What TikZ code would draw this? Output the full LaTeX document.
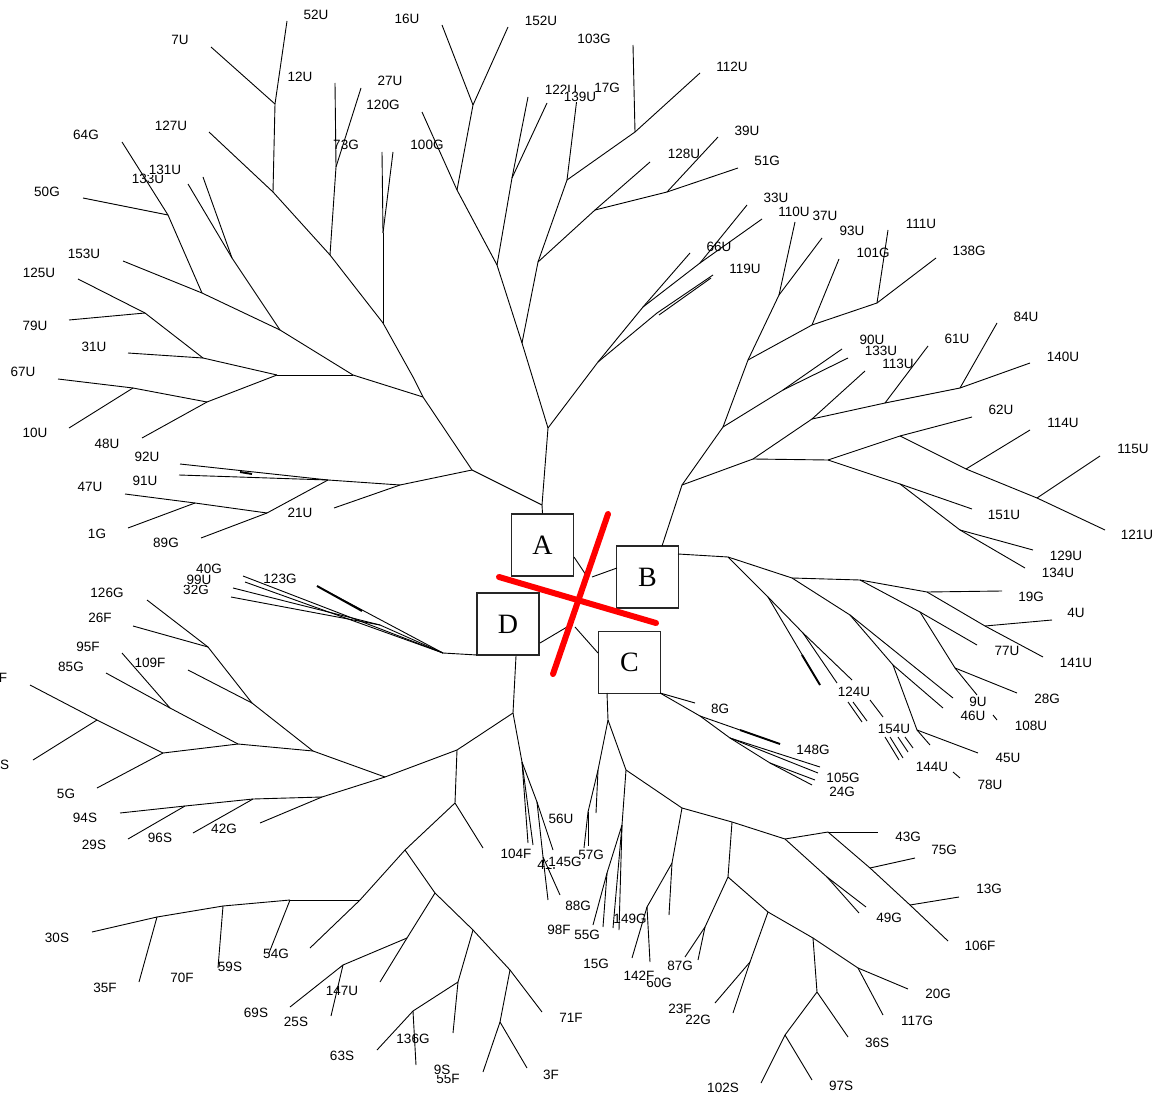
\documentclass[tikz,border=0pt]{standalone}
\usepackage{fontspec}
\setmainfont{Liberation Sans}
\newfontfamily\boxfont{Liberation Serif}
\newcommand\br[3]{\coordinate (#2) at (#3); \draw[edge] (#1) -- (#2);}
\newcommand\seg[3]{\coordinate (#1s) at (#2); \coordinate (#1e) at (#3); \draw[edge] (#1s) -- (#1e);}
\newcommand\segt[3]{\coordinate (#1s) at (#2); \coordinate (#1e) at (#3); \draw[thickedge] (#1s) -- (#1e);}
\begin{document}
\begin{tikzpicture}[x=1pt,y=-1pt,
  edge/.style={line width=0.9pt,black},
  thickedge/.style={line width=1.9pt,black},
  lab/.style={font=\fontsize{13.5}{14}\selectfont,inner sep=0pt},
  labw/.style={lab,fill=white,inner sep=0.6pt},
  box/.style={draw=black!85,line width=1.1pt,minimum width=62pt,minimum height=62pt,fill=white,inner sep=0pt,font=\boxfont\fontsize{28}{30}\selectfont},
  redx/.style={line width=6pt,red,line cap=round}]
\useasboundingbox[fill=white] (0,0) rectangle (1169,1099);

% boxes
\node[box] (A) at (542.5,545) {A};
\node[box] (B) at (647.5,577) {B};
\node[box] (C) at (629.5,662.5) {C};
\node[box] (D) at (508,624) {D};

% ---------- A side ----------
\coordinate (a0) at (542,505);
\draw[edge] (A.north) -- (a0);
\br{a0}{p1}{472,470}
\br{p1}{p2}{423,397}
\br{p2}{p3}{413,377}
\br{p3}{p4}{383,323}
\br{p4}{p5}{330,255}
\br{p5}{p6}{273,192}
\br{p6}{l127}{209,132}
\br{p4}{p4a}{383,233}
\br{p4a}{l100a}{382,152}
\br{p4a}{l100b}{393,152}
\br{p5}{p5a}{336,167}
\br{p5a}{l73}{335,83}
\br{p5a}{l120}{361,88}
\br{p6}{p6a}{275,104}
\br{p6a}{l52}{287,21}
\br{p6a}{l7}{211,47}
\br{p2}{p7}{353,375}
\br{p7}{p8}{280,330}
\br{p8}{p9}{202,293}
\br{p9}{l153}{123,261}
\br{p9}{p9a}{168,215}
\br{p9a}{l64}{122,142}
\br{p9a}{l50}{83,198}
\br{p8}{p8a}{232,258}
\br{p8a}{l131a}{188,184}
\br{p8a}{l131b}{203,177}
\br{p7}{p11}{277,375}
\br{p11}{p12}{203,358}
\br{p12}{p13}{145,313}
\br{p13}{l125}{78,279}
\br{p13}{l79}{69,320}
\br{p12}{l31}{128,353}
\br{p11}{p14}{207,402}
\br{p14}{p15}{133,388}
\br{p15}{l67}{58,379}
\br{p15}{l10}{69,428}
\br{p14}{l48}{142,438}
\br{p1}{p21}{400,485}
\br{p21}{l21}{334,508}
\br{p21}{p22}{328,480}
\br{p22}{l92}{180,464}
\segt{tk4}{240,472}{252,474}
\br{p22}{l91}{179,475}
\br{p22}{p24}{267,513}
\br{p24}{p25}{195,503}
\br{p25}{l47}{125,494}
\br{p25}{l1}{128,528}
\br{p24}{l89}{201,538}

\br{a0}{q1}{548,428}
\br{q1}{q2}{522,343}
\br{q2}{q3}{497,265}
\br{q3}{q4}{457,190}
\br{q4}{l100}{422,112}
\br{q4}{q5}{473,105}
\br{q5}{l16}{442,25}
\br{q5}{l152}{508,27}
\br{q3}{q6}{512,178}
\br{q6}{l122a}{528,97}
\br{q6}{l122b}{547,103}
\br{q2}{q7}{538,262}
\br{q7}{q8}{567,180}
\br{q8}{l139}{577,98}
\br{q8}{q9}{635,132}
\br{q9}{l112}{700,73}
\br{q9}{l103}{633,45}
\br{q7}{q10}{595,210}
\br{q10}{l128}{650,162}
\br{q10}{q11}{667,192}
\br{q11}{l39}{718,137}
\br{q11}{l51}{738,168}
\br{q1}{q12}{598,362}
\br{q12}{q13}{643,307}
\br{q13}{l66a}{690,253}
\br{q13}{q14}{700,263}
\br{q14}{l33}{747,205}
\br{q14}{l110x}{762,219}
\br{q12}{q15}{657,313}
\br{q15}{l119}{713,275}
\seg{dq}{659,315}{711,278}

% ---------- B side ----------
\coordinate (b0) at (662,546);
\br{b0}{b1}{682,485}
\br{b1}{b2}{753,459}
\br{b2}{b3}{828,460}
\br{b2}{b4}{812,419}
\br{b4}{b5}{885,403}
\br{b5}{b6}{960,388}
\br{b6}{l140}{1030,363}
\br{b6}{l84}{997,323}
\br{b5}{l61}{928,346}
\br{b4}{l113}{865,371}
\br{b3}{b7}{900,436}
\br{b7}{l62}{972,417}
\br{b7}{b8}{966,469}
\br{b8}{l114}{1030,430}
\br{b8}{b9}{1037,498}
\br{b9}{l115}{1100,456}
\br{b9}{l121}{1105,530}
\br{b3}{b10}{900,484}
\br{b10}{l151}{972,509}
\br{b10}{b11}{960,530}
\br{b11}{l129}{1033,550}
\br{b11}{l134}{1025,568}
\br{b1}{b12}{723,427}
\br{b12}{b13}{783,390}
\br{b13}{l90}{842,349}
\br{b13}{l133}{848,358}
\br{b12}{b14}{748,360}
\br{b14}{b15}{779,295}
\br{b15}{l110}{795,222}
\br{b15}{l37}{822,238}
\br{b14}{b16}{812,325}
\br{b16}{l93}{839,259}
\br{b16}{b17}{877,303}
\br{b17}{l111}{888,230}
\br{b17}{l138}{936,258}

\coordinate (b19) at (678,554);
\br{b19}{b20}{728,557}
\br{b20}{b21}{792,578}
\br{b21}{b22}{860,580}
\br{b22}{b23}{927,592}
\br{b23}{l19}{1002,591}
\br{b23}{b24}{985,626}
\br{b24}{l4}{1052,620}
\br{b24}{l141}{1043,657}
\br{b22}{b25}{920,612}
\br{b25}{l77}{977,645}
\br{b25}{b26}{955,668}
\br{b26}{l46}{977,695}
\br{b26}{l28}{1017,693}
\br{b21}{b27}{850,615}
\br{b27}{b28}{893,665}
\br{b28}{b29}{917,730}
\br{b29}{l45}{978,753}
\br{b29}{l154}{930,745}
\br{b28}{l124a}{943,708}
\br{b27}{l124b}{953,698}
\br{b20}{b30}{768,597}
\br{b30}{l124c}{820,685}
\segt{tk1}{802,655}{820,685}
\br{b30}{b31}{803,633}
\br{b31}{l124d}{837,683}
\br{b31}{l124e}{852,680}
\seg{e1}{848,702}{862,722}
\seg{e2}{853,702}{867,721}
\seg{e3}{870,700}{883,717}
\seg{e4}{885,737}{899,760}
\seg{e5}{890,737}{903,758}
\seg{e6}{898,737}{908,752}
\seg{e7}{905,737}{913,748}
\seg{e8}{953,772}{960,778}
\seg{e9}{993,715}{997,720}

% ---------- C side ----------
\coordinate (c0) at (607,693);
\br{c0}{c1}{608,720}
\br{c1}{c2}{598,770}
\br{c2}{l57a}{596,813}
\br{c2}{c3}{588,812}
\br{c3}{l57b}{584,848}
\br{c3}{l57c}{588,846}
\br{c1}{c4}{626,770}
\br{c4}{c5}{622,825}
\br{c5}{c6}{607,873}
\br{c6}{l98a}{593,925}
\br{c6}{l98b}{603,927}
\br{c5}{l149a}{619,930}
\br{c5}{l149b}{613,928}
\br{c4}{c7}{682,808}
\br{c7}{c8}{672,863}
\br{c8}{l142a}{669,915}
\br{c8}{c9}{647,907}
\br{c9}{l142}{632,958}
\br{c9}{l60}{650,962}
\br{c7}{c10}{732,822}
\br{c10}{c11}{728,877}
\br{c11}{c12}{705,927}
\br{c12}{l87a}{685,957}
\br{c12}{l87b}{698,960}
\br{c11}{c13}{768,912}
\br{c13}{c14}{750,962}
\br{c14}{l23}{715,1003}
\br{c14}{l22}{733,1013}
\br{c13}{c15}{813,938}
\br{c15}{c16}{858,968}
\br{c16}{l20}{908,989}
\br{c16}{l117}{883,1015}
\br{c15}{c17}{817,992}
\br{c17}{l36}{848,1037}
\br{c17}{c18}{785,1035}
\br{c18}{l102}{761,1083}
\br{c18}{l97}{812,1080}
\br{c10}{c19}{785,839}
\br{c19}{c20}{828,832}
\br{c20}{l43}{878,832}
\br{c20}{c21}{870,868}
\br{c21}{l75}{915,858}
\br{c21}{c22}{910,905}
\br{c22}{l13}{959,897}
\br{c22}{l106}{948,941}
\br{c19}{c23}{827,877}
\br{c23}{l49a}{866,907}
\br{c23}{l49b}{859,913}

\coordinate (cr0) at (660,693);
\br{cr0}{l8}{695,703}
\br{cr0}{cr1}{700,716}
\br{cr1}{l148}{780,744}
\segt{tk2}{740,730}{780,744}
\br{cr1}{cr2}{730,738}
\br{cr2}{l148b}{820,767}
\br{cr2}{l105}{818,773}
\br{cr2}{cr3}{770,763}
\br{cr3}{l24a}{815,780}
\br{cr3}{l24b}{812,785}

% ---------- D side ----------
\coordinate (d0) at (477,655);
\br{d0}{d1}{443,653}
\br{d1}{d2}{380,625}
\br{d2}{l32a}{233,588}
\br{d2}{l32b}{231,597}
\br{d1}{l40a}{243,576}
\br{d1}{l40b}{245,582}
\br{d1}{l123}{317,586}
\segt{tk3}{317,586}{362,611}

\coordinate (d9) at (516,656);
\br{d9}{d10}{513,713}
\br{d10}{d11}{457,750}
\br{d11}{d12}{385,777}
\br{d12}{d13}{313,751}
\br{d13}{d14}{238,744}
\br{d14}{d15}{163,753}
\br{d15}{d16}{97,720}
\br{d16}{lF}{30,685}
\br{d16}{l2S}{33,760}
\br{d15}{l5G}{97,788}
\br{d14}{d17}{170,708}
\br{d17}{l85}{106,673}
\br{d17}{l95}{122,653}
\br{d13}{d18}{252,703}
\br{d18}{l109}{188,670}
\br{d18}{d19}{208,647}
\br{d19}{l126}{147,600}
\br{d19}{l26}{133,626}
\br{d12}{d20}{322,797}
\br{d20}{l42}{260,823}
\br{d20}{d21}{253,799}
\br{d21}{l96}{193,833}
\br{d21}{d22}{185,806}
\br{d22}{l94}{120,813}
\br{d22}{l29}{128,839}
\br{d11}{d23}{455,803}
\br{d23}{lda}{483,848}
\br{d23}{d24}{405,850}
\br{d24}{d25}{360,900}
\br{d25}{l54a}{310,948}
\br{d25}{d26}{290,900}
\br{d26}{l54}{269,953}
\br{d26}{d27}{223,906}
\br{d27}{l59}{218,968}
\br{d27}{d28}{157,917}
\br{d28}{l30}{92,932}
\br{d28}{l35}{139,982}
\br{d24}{d29}{435,893}
\br{d29}{d30}{407,938}
\br{d30}{ldb}{380,982}
\br{d30}{d31}{343,965}
\br{d31}{l25}{290,1007}
\br{d31}{l147}{331,1016}
\br{d29}{d32}{473,930}
\br{d32}{d33}{458,982}
\br{d33}{l9}{453,1033}
\br{d33}{d34}{413,1011}
\br{d34}{l63}{377,1050}
\br{d34}{l136}{416,1065}
\br{d32}{d35}{510,970}
\br{d35}{l71}{542,1012}
\br{d35}{d36}{500,1022}
\br{d36}{l55}{483,1072}
\br{d36}{l3}{527,1068}
\br{d10}{d40}{522,762}
\br{d40}{d41}{537,802}
\br{d41}{l56}{553,850}
\br{d41}{d42}{543,857}
\br{d42}{l88a}{548,900}
\br{d42}{l88b}{560,895}
\br{d40}{l104a}{528,843}
\br{d40}{l104b}{533,845}

% ---------- centre stubs ----------
\seg{sA}{574,557}{586,575}
\seg{sB}{617,568}{592,577}
\seg{sD}{540,643}{567,627}
\seg{sC}{598,653}{575,627}

% red cross
\coordinate (r1) at (608,514); \coordinate (r2) at (553,674);
\coordinate (r3) at (499,577); \coordinate (r4) at (656,623);
\draw[redx] (r1) -- (r2);
\draw[redx] (r3) -- (r4);

% ---------- labels ----------
\node[lab] (t52U) at (316,15) {52U};
\node[lab] (t16U) at (407,19) {16U};
\node[lab] (t152U) at (541,21) {152U};
\node[lab] (t7U) at (180,40) {7U};
\node[lab] (t103G) at (594,39) {103G};
\node[lab] (t112U) at (732,67) {112U};
\node[lab] (t12U) at (300,77) {12U};
\node[lab] (t27U) at (390,81) {27U};
\node[lab] (t120G) at (383,105) {120G};
\node[lab] (t122U) at (561,90) {122U};
\node[labw] (t139U) at (580,97) {139U};
\node[lab] (t17G) at (607,88) {17G};
\node[lab] (t127U) at (171,126) {127U};
\node[lab] (t64G) at (86,135) {64G};
\node[lab] (t73G) at (346,145) {73G};
\node[lab] (t100G) at (427,145) {100G};
\node[lab] (t39U) at (747,131) {39U};
\node[lab] (t128U) at (684,154) {128U};
\node[lab] (t51G) at (767,161) {51G};
\node[lab] (t133Ua) at (148,179) {133U};
\node[labw] (t131U) at (165,170) {131U};
\node[lab] (t50G) at (47,192) {50G};
\node[lab] (t33U) at (776,198) {33U};
\node[lab] (t110U) at (794,212) {110U};
\node[lab] (t37U) at (825,216) {37U};
\node[lab] (t111U) at (921,224) {111U};
\node[lab] (t93U) at (852,231) {93U};
\node[lab] (t66U) at (719,247) {66U};
\node[lab] (t101G) at (873,253) {101G};
\node[lab] (t138G) at (969,251) {138G};
\node[lab] (t153U) at (84,254) {153U};
\node[lab] (t119U) at (745,269) {119U};
\node[lab] (t125U) at (39,273) {125U};
\node[lab] (t79U) at (35,326) {79U};
\node[lab] (t84U) at (1026,317) {84U};
\node[lab] (t61U) at (957,339) {61U};
\node[lab] (t90U) at (872,340) {90U};
\node[labw] (t133U) at (881,351) {133U};
\node[lab] (t31U) at (94,347) {31U};
\node[lab] (t113U) at (898,364) {113U};
\node[lab] (t140U) at (1063,357) {140U};
\node[lab] (t67U) at (23,372) {67U};
\node[lab] (t62U) at (1001,410) {62U};
\node[lab] (t114U) at (1063,423) {114U};
\node[lab] (t10U) at (35,433) {10U};
\node[lab] (t48U) at (107,444) {48U};
\node[lab] (t115U) at (1133,449) {115U};
\node[lab] (t92U) at (147,457) {92U};
\node[lab] (t91U) at (145,481) {91U};
\node[lab] (t47U) at (90,487) {47U};
\node[lab] (t21U) at (300,513) {21U};
\node[lab] (t151U) at (1004,515) {151U};
\node[lab] (t1G) at (97,534) {1G};
\node[lab] (t121U) at (1137,535) {121U};
\node[lab] (t89G) at (166,543) {89G};
\node[lab] (t129U) at (1066,556) {129U};
\node[lab] (t134U) at (1058,573) {134U};
\node[lab] (t32G) at (196,590) {32G};
\node[labw] (t99U) at (199,580) {99U};
\node[labw] (t40G) at (209,569) {40G};
\node[lab] (t123G) at (280,579) {123G};
\node[lab] (t126G) at (107,593) {126G};
\node[lab] (t19G) at (1031,597) {19G};
\node[lab] (t4U) at (1076,613) {4U};
\node[lab] (t26F) at (100,618) {26F};
\node[lab] (t95F) at (88,647) {95F};
\node[lab] (t77U) at (1007,651) {77U};
\node[lab] (t85G) at (71,667) {85G};
\node[lab] (t109F) at (150,663) {109F};
\node[lab] (t141U) at (1076,663) {141U};
\node[lab] (tF) at (3,678) {F};
\node[lab] (t124U) at (854,692) {124U};
\node[lab] (t28G) at (1047,699) {28G};
\node[lab] (t8G) at (720,709) {8G};
\node[lab] (t9U) at (978,702) {9U};
\node[labw] (t46U) at (973,716) {46U};
\node[lab] (t108U) at (1031,726) {108U};
\node[lab] (t154U) at (894,729) {154U};
\node[lab] (t148G) at (813,750) {148G};
\node[lab] (t45U) at (1008,758) {45U};
\node[lab] (t2S) at (1,765) {2S};
\node[lab] (t144U) at (932,767) {144U};
\node[lab] (t105G) at (843,778) {105G};
\node[labw] (t24G) at (842,792) {24G};
\node[lab] (t78U) at (990,785) {78U};
\node[lab] (t5G) at (66,794) {5G};
\node[lab] (t94S) at (85,818) {94S};
\node[lab] (t56U) at (561,819) {56U};
\node[lab] (t42G) at (224,829) {42G};
\node[lab] (t43G) at (908,837) {43G};
\node[lab] (t29S) at (94,845) {29S};
\node[lab] (t96S) at (160,838) {96S};
\node[lab] (t75G) at (944,850) {75G};
\node[lab] (t104F) at (516,854) {104F};
\node[lab] (t57G) at (591,855) {57G};
\node[lab] (t41F) at (549,865) {41F};
\node[labw] (t145G) at (565,862) {145G};
\node[lab] (t13G) at (989,889) {13G};
\node[lab] (t88G) at (578,906) {88G};
\node[lab] (t49G) at (889,918) {49G};
\node[lab] (t149G) at (630,919) {149G};
\node[lab] (t98F) at (559,930) {98F};
\node[lab] (t55G) at (587,935) {55G};
\node[lab] (t30S) at (57,938) {30S};
\node[lab] (t106F) at (980,946) {106F};
\node[lab] (t54G) at (276,954) {54G};
\node[lab] (t15G) at (596,964) {15G};
\node[lab] (t87G) at (680,966) {87G};
\node[lab] (t59S) at (230,967) {59S};
\node[lab] (t60G) at (659,983) {60G};
\node[labw] (t142F) at (639,976) {142F};
\node[lab] (t70F) at (182,978) {70F};
\node[lab] (t35F) at (105,988) {35F};
\node[lab] (t147U) at (342,991) {147U};
\node[lab] (t20G) at (938,994) {20G};
\node[lab] (t22G) at (698,1020) {22G};
\node[labw] (t23F) at (680,1009) {23F};
\node[lab] (t69S) at (256,1013) {69S};
\node[lab] (t71F) at (571,1018) {71F};
\node[lab] (t117G) at (917,1021) {117G};
\node[lab] (t25S) at (296,1022) {25S};
\node[lab] (t136G) at (413,1039) {136G};
\node[lab] (t36S) at (877,1043) {36S};
\node[lab] (t63S) at (342,1056) {63S};
\node[lab] (t55F) at (448,1079) {55F};
\node[labw] (t9S) at (442,1070) {9S};
\node[lab] (t3F) at (551,1075) {3F};
\node[lab] (t97S) at (841,1086) {97S};
\node[lab] (t102S) at (723,1088) {102S};
\end{tikzpicture}
\end{document}
